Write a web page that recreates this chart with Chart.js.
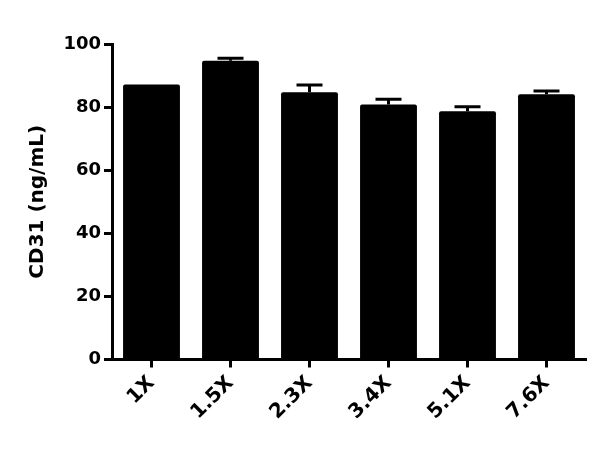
<!DOCTYPE html>
<html>
<head>
<meta charset="utf-8">
<script src="https://cdn.jsdelivr.net/npm/chart.js@4"></script>
<style>
  html, body { margin: 0; padding: 0; background: #fff; }
  #wrap { width: 600px; height: 449px; }
</style>
</head>
<body>
<div id="wrap"><canvas id="cd31"></canvas></div>
<script>
// ── DATA ───────────────────────────────────────────────────
const categories = ['1X', '1.5X', '2.3X', '3.4X', '5.1X', '7.6X'];
const means      = [87.2, 94.7, 84.7, 80.8, 78.7, 84.1];
const errors     = [0, 0.8, 2.3, 1.7, 1.4, 1.0];
const yTicks     = [0, 20, 40, 60, 80, 100];

const FONT = '"DejaVu Sans", "Liberation Sans", Arial, sans-serif';

// ── ERROR BARS (upper only) ────────────────────────────────
const errorBars = {
  id: 'errorBars',
  afterDatasetsDraw(chart) {
    const { ctx, scales: { x, y } } = chart;
    ctx.save();
    ctx.strokeStyle = '#000';
    ctx.lineWidth = 3;
    means.forEach((m, i) => {
      if (!errors[i]) return;
      const cx = x.getPixelForValue(i);
      const top = y.getPixelForValue(m + errors[i]);
      const base = y.getPixelForValue(m);
      ctx.beginPath();
      ctx.moveTo(cx, base);
      ctx.lineTo(cx, top);
      ctx.moveTo(cx - 13, top);
      ctx.lineTo(cx + 13, top);
      ctx.stroke();
    });
    ctx.restore();
  }
};

new Chart(document.getElementById('cd31'), {
  type: 'bar',
  data: {
    labels: categories,
    datasets: [{
      data: means,
      backgroundColor: '#000',
      borderColor: '#000',
      borderWidth: 0,
      borderRadius: 2,
      barPercentage: 0.72,
      categoryPercentage: 1.0,
    }]
  },
  options: {
    responsive: true,
    maintainAspectRatio: false,
    animation: false,
    layout: { padding: { top: 44, right: 14, left: 0, bottom: 0 } },
    plugins: { legend: { display: false }, tooltip: { enabled: false } },
    scales: {
      x: {
        grid: { display: true, drawOnChartArea: false, offset: false, tickLength: 8, tickWidth: 3, tickColor: '#000' },
        border: { display: true, width: 3, color: '#000' },
        ticks: {
          color: '#000', font: { family: FONT, size: 20, weight: 'bold' },
          maxRotation: 45, minRotation: 45, padding: 4
        },
        afterFit: s => { s.height = 89.5; }
      },
      y: {
        min: 0, max: 100,
        afterBuildTicks: s => { s.ticks = yTicks.map(v => ({ value: v })); },
        grid: { display: true, drawOnChartArea: false, tickLength: 8, tickWidth: 3, tickColor: '#000' },
        border: { display: true, width: 3, color: '#000' },
        ticks: { color: '#000', font: { family: FONT, size: 18, weight: 'bold' }, padding: 3 },
        title: {
          display: true, text: 'CD31 (ng/mL)', color: '#000',
          font: { family: FONT, size: 20, weight: 'bold' }, padding: { top: 26, bottom: 0 }
        },
        afterFit: s => { s.width = 112; }
      }
    }
  },
  plugins: [errorBars]
});
</script>
</body>
</html>
